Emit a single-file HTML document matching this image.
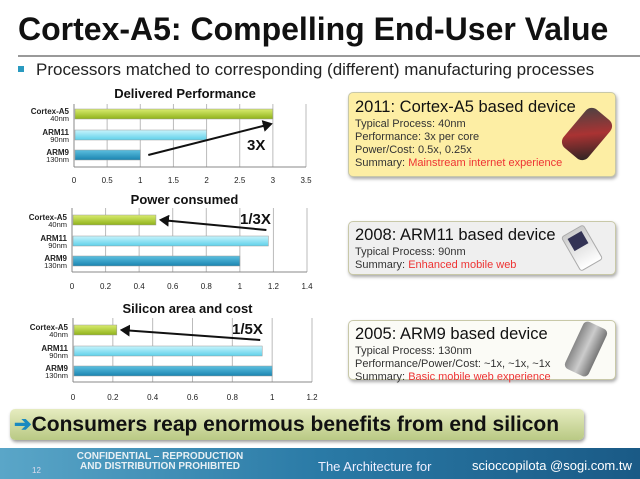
<!DOCTYPE html>
<html><head><meta charset="utf-8"><style>
body{margin:0;width:640px;height:479px;overflow:hidden;background:#fff;font-family:"Liberation Sans",sans-serif;position:relative}
.abs{position:absolute;white-space:nowrap}
.box{position:absolute;left:348px;width:268px;border:1px solid #c8c8a8;border-radius:5px;box-shadow:1px 2px 3px #aaa;font-size:11px;color:#333;line-height:13px;padding:0 6px;box-sizing:border-box}
.box h3{margin:0 0 1px 0;font-weight:normal;font-size:16.5px;color:#111;line-height:19px}
.red{color:#e33}
</style></head><body>
<div class="abs" style="left:18px;top:11px;font-size:32px;font-weight:bold;color:#111">Cortex-A5: Compelling End-User Value</div>
<div class="abs" style="left:18px;top:55px;width:622px;height:2px;background:#999"></div>
<div class="abs" style="left:18px;top:66px;width:6px;height:6px;background:#2a9ac0"></div>
<div class="abs" style="left:36px;top:60px;font-size:17px;color:#222">Processors matched to corresponding (different) manufacturing processes</div>

<svg id="charts" class="abs" style="left:0;top:0" width="330" height="405">
<defs>
<linearGradient id="gA5" x1="0" y1="0" x2="0" y2="1"><stop offset="0" stop-color="#d9ec70"/><stop offset="1" stop-color="#8fb21a"/></linearGradient>
<linearGradient id="g11" x1="0" y1="0" x2="0" y2="1"><stop offset="0" stop-color="#c8f4fc"/><stop offset="1" stop-color="#5ed0ea"/></linearGradient>
<linearGradient id="g9" x1="0" y1="0" x2="0" y2="1"><stop offset="0" stop-color="#5cc0e0"/><stop offset="1" stop-color="#1a84b0"/></linearGradient>
<marker id="ah" markerWidth="5" markerHeight="6" refX="4" refY="3" orient="auto" markerUnits="strokeWidth"><path d="M0,0 L5,3 L0,6 Z" fill="#111"/></marker>
</defs>
</svg>

<div class="box" style="top:92px;height:85px;background:#fdeea4;padding-top:5px">
<h3>2011: Cortex-A5 based device</h3>Typical Process: 40nm<br>Performance: 3x per core<br>Power/Cost: 0.5x, 0.25x<br>Summary: <span class="red">Mainstream internet experience</span>
<div class="abs" style="left:222px;top:16px;width:32px;height:50px;background:linear-gradient(135deg,#444,#a33 50%,#222);border-radius:8px;transform:rotate(40deg)"></div>
</div>
<div class="box" style="top:221px;height:54px;background:#efefef;padding-top:4px">
<h3>2008: ARM11 based device</h3>Typical Process: 90nm<br>Summary: <span class="red">Enhanced mobile web</span>
<div class="abs" style="left:220px;top:6px;width:24px;height:38px;background:linear-gradient(#ccc,#fff);border:1px solid #aaa;border-radius:3px;transform:rotate(-30deg)"><div style="margin:4px;height:14px;background:#335"></div></div>
</div>
<div class="box" style="top:320px;height:60px;background:#fbfbf6;padding-top:4px">
<h3>2005: ARM9 based device</h3>Typical Process: 130nm<br>Performance/Power/Cost: ~1x, ~1x, ~1x<br>Summary: <span class="red">Basic mobile web experience</span>
<div class="abs" style="left:224px;top:2px;width:26px;height:52px;background:linear-gradient(90deg,#888,#ccc,#777);border-radius:5px;transform:rotate(25deg)"></div>
</div>

<div class="abs" style="left:10px;top:409px;width:574px;height:31px;border-radius:5px;background:linear-gradient(#e6ecc0,#b9c984);box-shadow:1px 2px 3px #999"></div>
<div class="abs" style="left:14px;top:412px;font-size:21px;font-weight:bold;color:#111"><span style="color:#1a8ac0">➔</span>Consumers reap enormous benefits from end silicon</div>

<div class="abs" style="left:0;top:448px;width:640px;height:31px;background:linear-gradient(90deg,#5aa6c8,#2a7aa6 50%,#1a5a86)"></div>
<div class="abs" style="left:32px;top:466px;font-size:8px;color:#dde">12</div>
<div class="abs" style="left:70px;top:452px;font-size:10px;font-weight:bold;color:#e8f0f4;text-align:center;line-height:10px;width:180px">CONFIDENTIAL – REPRODUCTION<br>AND DISTRIBUTION PROHIBITED</div>
<div class="abs" style="left:318px;top:459px;font-size:13px;color:#eef">The Architecture for</div>
<div class="abs" style="left:472px;top:458px;font-size:13px;color:#fff">scioccopilota @sogi.com.tw</div>

<script>
const rowNames = ["Cortex-A5","ARM11","ARM9"];
const rowSub = ["40nm","90nm","130nm"];
const perfValues = [3, 2, 1];
const powerValues = [0.5, 1.17, 1.0];
const areaValues = [0.22, 0.95, 1.0];
const perfTicks = [0,0.5,1,1.5,2,2.5,3,3.5];
const powerTicks = [0,0.2,0.4,0.6,0.8,1,1.2,1.4];
const areaTicks = [0,0.2,0.4,0.6,0.8,1,1.2];
const chartTitles = ["Delivered Performance","Power consumed","Silicon area and cost"];
const ratioLabels = ["3X","1/3X","1/5X"];

const svg = document.getElementById('charts');
const NS = 'http://www.w3.org/2000/svg';
function mk(tag, attrs){const e=document.createElementNS(NS,tag);for(const k in attrs)e.setAttribute(k,attrs[k]);svg.appendChild(e);return e;}

const cfg = [
 {vals:perfValues,ticks:perfTicks,x0:74,x1:306,top:104,bot:167,titleY:98,tickY:183,bars:[109,130,150],lab:[247,150]},
 {vals:powerValues,ticks:powerTicks,x0:72,x1:307,top:208,bot:272,titleY:204,tickY:289,bars:[215,236,256],lab:[240,224]},
 {vals:areaValues,ticks:areaTicks,x0:73,x1:312,top:318,bot:382,titleY:313,tickY:400,bars:[325,346,366],lab:[232,334]}
];
const fills=['url(#gA5)','url(#g11)','url(#g9)'];
cfg.forEach((c,ci)=>{
  const max=c.ticks[c.ticks.length-1];
  const xs=v=>c.x0+(c.x1-c.x0)*v/max;
  const t=mk('text',{x:(c.x0+c.x1)/2-5,y:c.titleY,'text-anchor':'middle','font-size':13,'font-weight':'bold',fill:'#111'});
  
  
  t.textContent=chartTitles[ci];
  c.ticks.forEach(tv=>{
    const g=mk('line',{x1:xs(tv),x2:xs(tv),y1:c.top,y2:c.bot,stroke:'#bbb','stroke-width':1});
    
    
    const tl=mk('text',{x:xs(tv),y:c.tickY,'text-anchor':'middle','font-size':8,fill:'#222'});
    
    
    tl.textContent=tv;
  });
  mk('line',{x1:c.x0,x2:c.x0,y1:c.top,y2:c.bot,stroke:'#888'});
  mk('line',{x1:c.x0,x2:c.x1,y1:c.bot,y2:c.bot,stroke:'#888'});
  c.vals.forEach((v,i)=>{
    const b=mk('rect',{x:c.x0+1,y:c.bars[i],width:xs(v)-c.x0-1,height:10,fill:fills[i],stroke:'#999','stroke-width':0.5});
    
    
    const l1=mk('text',{x:c.x0-5,y:c.bars[i]+5,'text-anchor':'end','font-size':8,'font-weight':'bold',fill:'#222'});
    
    
    l1.textContent=rowNames[i];
    const l2=mk('text',{x:c.x0-5,y:c.bars[i]+12,'text-anchor':'end','font-size':7.5,fill:'#222'});
    
    
    l2.textContent=rowSub[i];
  });
  let ax1,ay1,ax2,ay2;
  if(ci===0){ax1=xs(perfValues[2])+8;ay1=c.bars[2]+5;ax2=xs(perfValues[0])-2;ay2=c.bars[1]-6;}
  else{ax1=xs(c.vals[1])-2;ay1=c.bars[1]-6;ax2=xs(c.vals[0])+5;ay2=c.bars[0]+5;}
  const a=mk('line',{x1:ax1,y1:ay1,x2:ax2,y2:ay2,stroke:'#111','stroke-width':2,'marker-end':'url(#ah)'});
  
  
  const rl=mk('text',{x:c.lab[0],y:c.lab[1],'font-size':15,'font-weight':'bold',fill:'#111'});
  
  
  rl.textContent=ratioLabels[ci];
});
</script>
</body></html>
